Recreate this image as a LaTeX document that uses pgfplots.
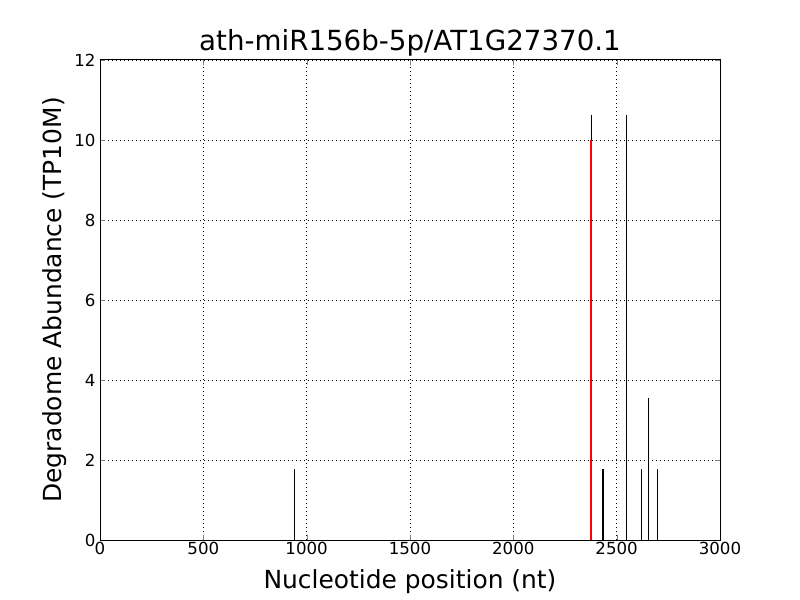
\documentclass[border=0pt]{standalone}
\usepackage{pgfplots}
\pgfplotsset{compat=1.18}
\usepackage{fontspec}
\setmainfont{DejaVu Sans}
\begin{document}
\begin{tikzpicture}
\begin{axis}[
  scale only axis, width=620bp, height=480bp,
  xmin=0, xmax=3000, ymin=0, ymax=12,
  xtick={0,500,...,3000}, ytick={0,2,...,12},
  scaled ticks=false,
  /pgf/number format/assume math mode=true,
  /pgf/number format/1000 sep={},
  tick label style={font=\fontsize{16.7}{19}\selectfont},
  xticklabel style={yshift=1bp},
  yticklabel style={xshift=-1bp},
  tick align=inside, tick pos=both,
  major tick length=5.5bp,
  grid=major, grid style={black, line width=0.6pt, dash pattern=on 1bp off 3bp},
  axis line style={black, line width=1pt},
  title={ath-miR156b-5p/AT1G27370.1},
  title style={font=\fontsize{27.8}{32}\selectfont, at={(0.5,1)}, above, yshift=-6bp},
  xlabel={Nucleotide position (nt)},
  ylabel={Degradome Abundance (TP10M)},
  xlabel style={font=\fontsize{25}{29}\selectfont, yshift=-8bp},
  ylabel style={font=\fontsize{25}{29}\selectfont, yshift=1bp},
  ycomb, clip=true,
]
\addplot[black, line width=1.1pt] coordinates {
 (943,1.77) (2377,10.62) (2379,5.31) (2434,1.77) (2547,10.62) (2619,1.77) (2653,3.54) (2697,1.77)
};
\addplot[red, line width=2pt] coordinates {(2377,10)};
\end{axis}
\path (current axis.south west) ++(-100bp,-60bp) rectangle ++(800bp,600bp);
\end{tikzpicture}
\end{document}
